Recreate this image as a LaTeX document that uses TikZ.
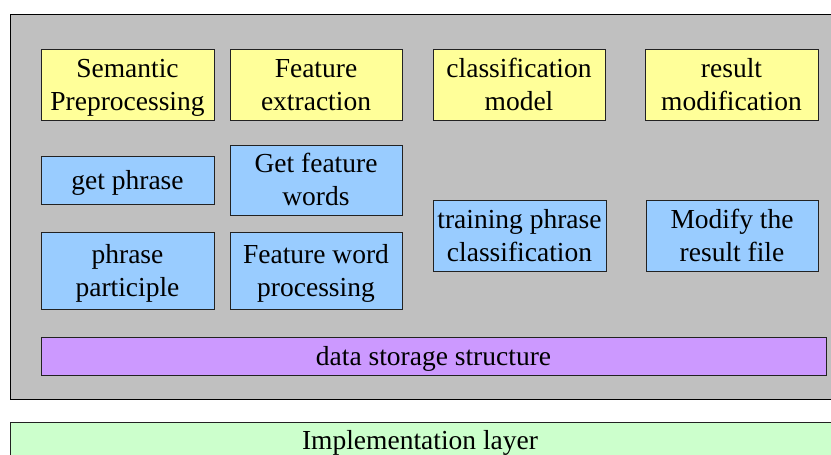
\documentclass[tikz,border=0pt]{standalone}
\usepackage{fontspec}
\setmainfont{Liberation Serif}
\usetikzlibrary{shadows}
\definecolor{ylw}{HTML}{FFFF99}
\definecolor{blu}{HTML}{99CCFF}
\definecolor{prp}{HTML}{CC99FF}
\definecolor{grn}{HTML}{CCFFCC}
\definecolor{gry}{HTML}{C0C0C0}
\definecolor{edge}{HTML}{222222}
\tikzset{
  cell/.style={draw=edge, line width=0.9pt, inner sep=0pt,
    drop shadow={shadow xshift=1.2pt, shadow yshift=-1.2pt, fill=black!55, opacity=1}},
  yb/.style={cell, fill=ylw},
  bb/.style={cell, fill=blu},
  txt/.style={inner sep=0pt, align=center, font=\fontsize{27.5}{33}\selectfont},
}
% \cellbox{name}{style}{cx}{cy}{w}{h}{text}
\newcommand\cellbox[7]{%
  \node[#2, minimum width=#5pt, minimum height=#6pt] (#1) at (#3,#4) {};
  \node[txt] (#1-t) at ([yshift=-2.7pt]#1.center) {\strut#7\strut};}
\begin{document}
\begin{tikzpicture}[x=1pt,y=-1pt]
\useasboundingbox (0,0) rectangle (831,455);
\clip (0,0) rectangle (831,455);
\fill[white] (0,0) rectangle (831,455);
% outer gray panel
\node[draw=black, line width=1.2pt, fill=gry, minimum width=840pt, minimum height=385pt, inner sep=0pt, anchor=north west] (panel) at (10,14) {};
% yellow row
\cellbox{sem}{yb}{127.5}{84.5}{173}{71}{Semantic\\Preprocessing}
\cellbox{fex}{yb}{316}{84.5}{172}{71}{Feature\\extraction}
\cellbox{cls}{yb}{519}{84.5}{172}{71}{classification\\model}
\cellbox{res}{yb}{731.5}{84.5}{173}{71}{result\\modification}
% blue boxes
\cellbox{gp}{bb}{127.5}{180}{173}{48}{get phrase}
\cellbox{gfw}{bb}{316}{180}{172}{70}{Get feature\\words}
\cellbox{pp}{bb}{127.5}{270.5}{173}{77}{phrase\\participle}
\cellbox{fwp}{bb}{316}{270.5}{172}{77}{Feature word\\processing}
\cellbox{tpc}{bb}{519.5}{235.5}{173}{71}{training phrase\\classification}
\cellbox{mrf}{bb}{732}{235.5}{172}{71}{Modify the\\result file}
% storage
\cellbox{dss}{cell, fill=prp}{433.5}{356}{785}{38}{data storage structure}
% implementation layer
\node[draw=edge, line width=0.9pt, fill=grn, minimum width=840pt, minimum height=45pt, inner sep=0pt, anchor=north west] (impl) at (10,422) {};
\node[txt] (impl-t) at (420,443) {\strut Implementation layer};
\end{tikzpicture}
\end{document}
